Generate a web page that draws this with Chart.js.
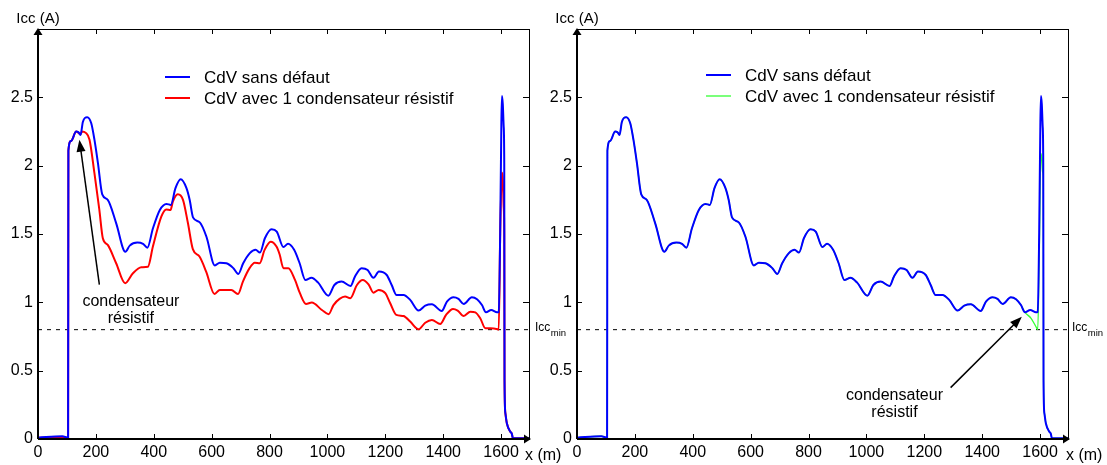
<!DOCTYPE html>
<html>
<head>
<meta charset="utf-8">
<title>Icc le long du CdV</title>
<script src="https://cdn.jsdelivr.net/npm/chart.js@4.4.1/dist/chart.umd.min.js"></script>
<style>
  html, body { margin: 0; padding: 0; background: #fff; }
  #wrap { position: relative; width: 1107px; height: 465px; overflow: hidden; }
  canvas { position: absolute; top: 0; }
  #gauche { left: 0; }
  #droite { left: 540px; }
</style>
</head>
<body>
<div id="wrap">
  <canvas id="gauche" width="575" height="465"></canvas>
  <canvas id="droite" width="567" height="465"></canvas>
</div>
<script>
const FONT = '"Liberation Sans", Arial, sans-serif';

const xTicks = [0, 200, 400, 600, 800, 1000, 1200, 1400, 1600];
const yTicks = [0, 0.5, 1, 1.5, 2, 2.5];
const X_MAX = 1700;
const Y_MAX = 3;
const ICC_MIN = 0.8;

// CdV sans défaut
const sainX = [0, 84, 104, 105, 114, 132, 140, 147, 155, 170, 184, 195, 207, 222, 241, 270, 302, 317, 343, 363,
  378, 397, 421, 444, 459, 475, 493, 513, 524, 536, 559, 582, 611, 628, 651, 675, 692, 709, 732, 752,
  767, 784, 807, 825, 848, 864, 885, 904, 924, 945, 968, 1003, 1024, 1049, 1080, 1095, 1118, 1139, 1159, 1178,
  1205, 1222, 1239, 1263, 1286, 1315, 1338, 1361, 1395, 1413, 1436, 1453, 1471, 1499, 1517, 1534, 1548, 1566, 1586, 1592,
  1597, 1601, 1603, 1606, 1609, 1611, 1612, 1615, 1620, 1632, 1637, 1641, 1700];
const sainY = [0.01, 0.02, 0.01, 2.11, 2.18, 2.25, 2.245, 2.225, 2.32, 2.355, 2.31, 2.19, 2.02, 1.79, 1.75, 1.58, 1.37, 1.415, 1.437, 1.428,
  1.40, 1.54, 1.676, 1.72, 1.713, 1.835, 1.90, 1.835, 1.75, 1.62, 1.585, 1.48, 1.27, 1.29, 1.286, 1.25, 1.208, 1.286, 1.36, 1.384,
  1.364, 1.469, 1.535, 1.518, 1.405, 1.428, 1.384, 1.286, 1.164, 1.18, 1.144, 1.049, 1.127, 1.152, 1.12, 1.188, 1.25, 1.237, 1.18, 1.225,
  1.20, 1.127, 1.054, 1.054, 1.018, 0.94, 0.976, 0.986, 0.937, 1.005, 1.037, 1.025, 0.988, 1.037, 1.023, 0.98, 0.927, 0.944, 0.927, 0.93,
  1.51, 2.3, 2.51, 2.45, 2.29, 2.02, 0.43, 0.188, 0.115, 0.053, 0.04, 0.005, 0.005];

// CdV avec 1 condensateur résistif, défaut vers le début de la voie
const amontX = [0, 104, 105, 114, 132, 140, 147, 152, 165, 178, 195, 212, 224, 241, 270, 301, 328, 357, 380, 397,
  426, 443, 458, 466, 483, 501, 518, 535, 558, 581, 610, 628, 668, 691, 708, 731, 749, 766, 783, 804,
  824, 835, 848, 865, 888, 905, 926, 946, 981, 1004, 1021, 1042, 1061, 1079, 1102, 1122, 1142, 1159, 1177, 1200,
  1217, 1238, 1263, 1286, 1315, 1338, 1361, 1390, 1410, 1434, 1450, 1471, 1494, 1511, 1528, 1546, 1563, 1588, 1592, 1597,
  1603, 1606, 1609, 1611, 1612, 1615, 1620, 1632, 1637, 1641, 1700];
const amontY = [0.01, 0.01, 2.11, 2.18, 2.25, 2.24, 2.23, 2.25, 2.24, 2.19, 1.945, 1.676, 1.469, 1.42, 1.286, 1.14, 1.213, 1.257, 1.261, 1.408,
  1.627, 1.68, 1.676, 1.737, 1.79, 1.75, 1.58, 1.389, 1.335, 1.225, 1.061, 1.091, 1.091, 1.061, 1.152, 1.25, 1.29, 1.286, 1.384, 1.444,
  1.408, 1.35, 1.25, 1.25, 1.164, 1.067, 0.988, 0.998, 0.944, 0.913, 0.98, 1.025, 1.042, 1.03, 1.127, 1.164, 1.132, 1.071, 1.091, 1.067,
  0.993, 0.908, 0.90, 0.859, 0.803, 0.851, 0.871, 0.842, 0.908, 0.952, 0.94, 0.90, 0.932, 0.927, 0.884, 0.81, 0.81, 0.803, 0.80, 1.5,
  1.95, 1.9, 1.7, 1.5, 0.43, 0.188, 0.115, 0.053, 0.04, 0.005, 0.005];

// CdV avec 1 condensateur résistif, défaut en fin de voie
const avalX = [0, 84, 104, 105, 114, 132, 140, 147, 155, 170, 184, 195, 207, 222, 241, 270, 302, 317, 343, 363,
  378, 397, 421, 444, 459, 475, 493, 513, 524, 536, 559, 582, 611, 628, 651, 675, 692, 709, 732, 752,
  767, 784, 807, 825, 848, 864, 885, 904, 924, 945, 968, 1003, 1024, 1049, 1080, 1095, 1118, 1139, 1159, 1178,
  1205, 1222, 1239, 1263, 1286, 1315, 1338, 1361, 1395, 1413, 1436, 1453, 1471, 1499, 1517, 1534, 1548, 1569, 1589, 1592,
  1597, 1603, 1606, 1609, 1611, 1612, 1615, 1620, 1632, 1637, 1641, 1700];
const avalY = [0.01, 0.02, 0.01, 2.11, 2.18, 2.25, 2.245, 2.225, 2.32, 2.355, 2.31, 2.19, 2.02, 1.79, 1.75, 1.58, 1.37, 1.415, 1.437, 1.428,
  1.40, 1.54, 1.676, 1.72, 1.713, 1.835, 1.90, 1.835, 1.75, 1.62, 1.585, 1.48, 1.27, 1.29, 1.286, 1.25, 1.208, 1.286, 1.36, 1.384,
  1.364, 1.469, 1.535, 1.518, 1.405, 1.428, 1.384, 1.286, 1.164, 1.18, 1.144, 1.049, 1.127, 1.152, 1.12, 1.188, 1.25, 1.237, 1.18, 1.225,
  1.20, 1.127, 1.054, 1.054, 1.018, 0.94, 0.976, 0.986, 0.937, 1.005, 1.037, 1.025, 0.988, 1.037, 1.023, 0.98, 0.927, 0.883, 0.81, 0.80,
  1.3, 2.09, 2.05, 1.95, 1.9, 0.43, 0.188, 0.115, 0.053, 0.04, 0.005, 0.005];

function serie(label, xs, ys, color, width) {
  return {
    label: label,
    data: xs.map((x, i) => ({ x: x, y: ys[i] })),
    borderColor: color,
    backgroundColor: color,
    borderWidth: width,
    pointRadius: 0,
    showLine: true,
    fill: false,
    cubicInterpolationMode: 'monotone'
  };
}

function seuil() {
  return {
    label: 'Icc min',
    data: [{ x: 0, y: ICC_MIN }, { x: X_MAX, y: ICC_MIN }],
    borderColor: '#000',
    borderWidth: 1,
    borderDash: [4, 5],
    pointRadius: 0,
    showLine: true,
    fill: false
  };
}

function fleche(ctx, x0, y0, x1, y1) {
  const ang = Math.atan2(y1 - y0, x1 - x0);
  const L = 12, W = 4.5;
  ctx.beginPath();
  ctx.moveTo(x0, y0);
  ctx.lineTo(x1 - L * Math.cos(ang) * 0.8, y1 - L * Math.sin(ang) * 0.8);
  ctx.lineWidth = 1.5;
  ctx.stroke();
  ctx.beginPath();
  ctx.moveTo(x1, y1);
  ctx.lineTo(x1 - L * Math.cos(ang) + W * Math.sin(ang), y1 - L * Math.sin(ang) - W * Math.cos(ang));
  ctx.lineTo(x1 - L * Math.cos(ang) - W * Math.sin(ang), y1 - L * Math.sin(ang) + W * Math.cos(ang));
  ctx.closePath();
  ctx.fill();
}

// cadre façon Matlab : axes fléchés, graduations intérieures, légende et annotations
const cadre = {
  id: 'cadre',
  afterDraw(chart, args, opts) {
    const ctx = chart.ctx;
    const a = chart.chartArea;
    const sx = chart.scales.x, sy = chart.scales.y;
    ctx.save();
    ctx.strokeStyle = '#000';
    ctx.fillStyle = '#000';

    // bords haut et droit
    ctx.lineWidth = 1;
    ctx.beginPath();
    ctx.moveTo(a.left, a.top + 0.5); ctx.lineTo(a.right, a.top + 0.5);
    ctx.moveTo(a.right - 0.5, a.top); ctx.lineTo(a.right - 0.5, a.bottom);
    ctx.stroke();

    // graduations
    ctx.beginPath();
    xTicks.forEach(v => {
      const px = Math.round(sx.getPixelForValue(v)) + 0.5;
      ctx.moveTo(px, a.bottom); ctx.lineTo(px, a.bottom - 5);
      ctx.moveTo(px, a.top); ctx.lineTo(px, a.top + 5);
    });
    yTicks.forEach(v => {
      const py = Math.round(sy.getPixelForValue(v)) + 0.5;
      ctx.moveTo(a.left, py); ctx.lineTo(a.left + 5, py);
      ctx.moveTo(a.right, py); ctx.lineTo(a.right - 7, py);
    });
    ctx.stroke();

    // axes principaux
    ctx.lineWidth = 2;
    ctx.beginPath();
    ctx.moveTo(a.left, a.bottom); ctx.lineTo(a.left, a.top + 4);
    ctx.moveTo(a.left, a.bottom); ctx.lineTo(a.right - 4, a.bottom);
    ctx.stroke();
    ctx.beginPath();
    ctx.moveTo(a.left, a.top - 1);
    ctx.lineTo(a.left - 4.5, a.top + 6);
    ctx.lineTo(a.left + 4.5, a.top + 6);
    ctx.closePath();
    ctx.fill();
    ctx.beginPath();
    ctx.moveTo(a.right + 1, a.bottom);
    ctx.lineTo(a.right - 6, a.bottom - 4.5);
    ctx.lineTo(a.right - 6, a.bottom + 4.5);
    ctx.closePath();
    ctx.fill();

    // titres des axes
    ctx.font = '15px ' + FONT;
    ctx.textBaseline = 'middle';
    ctx.textAlign = 'center';
    ctx.fillText('Icc (A)', a.left, 19);
    ctx.font = '16px ' + FONT;
    ctx.textAlign = 'left';
    ctx.fillText('x (m)', a.right + opts.xmDx, 456);

    // étiquette du seuil
    const ys = sy.getPixelForValue(ICC_MIN);
    ctx.textBaseline = 'alphabetic';
    ctx.font = '12px ' + FONT;
    const xs = a.right + opts.iccDx;
    ctx.fillText('Icc', xs, ys + 1);
    const w = ctx.measureText('Icc').width;
    ctx.font = '9.5px ' + FONT;
    ctx.fillText('min', xs + w + 0.5, ys + 6);

    // légende
    ctx.font = '17px ' + FONT;
    ctx.textBaseline = 'middle';
    chart.data.datasets.slice(0, 2).forEach((ds, i) => {
      const y = opts.legende.rows[i];
      ctx.strokeStyle = ds.borderColor;
      ctx.lineWidth = ds.borderWidth;
      ctx.beginPath();
      ctx.moveTo(a.left + opts.legende.x0, y);
      ctx.lineTo(a.left + opts.legende.x1, y);
      ctx.stroke();
      ctx.fillStyle = '#000';
      ctx.fillText(ds.label, a.left + opts.legende.tx, y + 1);
    });

    // annotation
    const n = opts.note;
    ctx.strokeStyle = '#000';
    ctx.fillStyle = '#000';
    fleche(ctx, sx.getPixelForValue(n.de.x), sy.getPixelForValue(n.de.y),
      sx.getPixelForValue(n.vers.x), sy.getPixelForValue(n.vers.y));
    ctx.font = '16px ' + FONT;
    ctx.textAlign = 'center';
    n.lignes.forEach((t, i) => {
      ctx.fillText(t, sx.getPixelForValue(n.x), sy.getPixelForValue(n.y[i]));
    });
    ctx.restore();
  }
};

function graphe(id, datasets, yWidth, padRight, opts) {
  return new Chart(document.getElementById(id), {
    type: 'scatter',
    data: { datasets: datasets },
    options: {
      responsive: false,
      animation: false,
      layout: { padding: { top: 29, right: padRight, bottom: 0, left: 0 } },
      plugins: {
        legend: { display: false },
        tooltip: { enabled: false },
        cadre: opts
      },
      scales: {
        x: {
          type: 'linear',
          min: 0,
          max: X_MAX,
          grid: { display: false, drawTicks: false },
          border: { display: false },
          afterBuildTicks: s => { s.ticks = xTicks.map(v => ({ value: v })); },
          afterFit: s => { s.height = 26; },
          ticks: {
            font: { family: FONT, size: 16 },
            color: '#000',
            padding: 4,
            maxRotation: 0,
            autoSkip: false,
            callback: v => String(v)
          }
        },
        y: {
          type: 'linear',
          min: 0,
          max: Y_MAX,
          grid: { display: false, drawTicks: false },
          border: { display: false },
          afterBuildTicks: s => { s.ticks = yTicks.map(v => ({ value: v })); },
          afterFit: s => { s.width = yWidth; },
          ticks: {
            font: { family: FONT, size: 16 },
            color: '#000',
            padding: 5,
            callback: v => String(v)
          }
        }
      }
    },
    plugins: [cadre]
  });
}

graphe('gauche', [
  serie('CdV sans défaut', sainX, sainY, '#0000ff', 2),
  serie('CdV avec 1 condensateur résistif', amontX, amontY, '#ff0000', 2),
  seuil()
], 38, 45, {
  xmDx: -5,
  iccDx: 5,
  legende: { x0: 127, x1: 152, tx: 166, rows: [77, 98] },
  note: { de: { x: 212, y: 1.13 }, vers: { x: 143, y: 2.19 }, x: 321, y: [1.005, 0.88], lignes: ['condensateur', 'résistif'] }
});

graphe('droite', [
  serie('CdV sans défaut', sainX, sainY, '#0000ff', 2),
  serie('CdV avec 1 condensateur résistif', avalX, avalY, '#33ff33', 1.3),
  seuil()
], 37, 38, {
  xmDx: -3,
  iccDx: 3,
  legende: { x0: 129, x1: 154, tx: 168, rows: [75, 96] },
  note: { de: { x: 1291, y: 0.376 }, vers: { x: 1537, y: 0.895 }, x: 1097, y: [0.317, 0.193], lignes: ['condensateur', 'résistif'] }
});
</script>
</body>
</html>
